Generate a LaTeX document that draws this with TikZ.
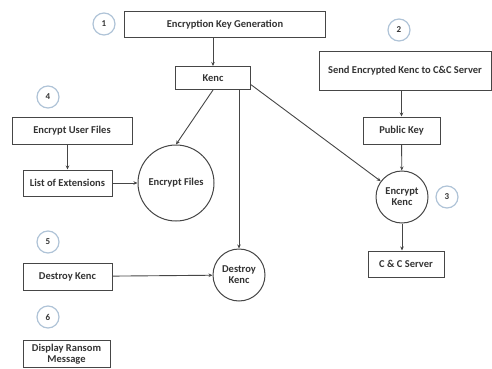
\documentclass[tikz,border=0pt]{standalone}
\usepackage{fontspec}
\setmainfont{Carlito}
\usetikzlibrary{arrows.meta}
\definecolor{numblue}{RGB}{175,195,215}
\definecolor{lineg}{RGB}{70,70,70}

\begin{document}
\begin{tikzpicture}[x=1pt, y=-1pt,
        >={Stealth[length=4pt,width=3.5pt]},
        every node/.style={font=\bfseries\fontsize{10.5}{11}\selectfont, text=black!80},
        box/.style={draw=lineg, line width=1pt, inner sep=1pt, align=center},
        proc/.style={draw=lineg, circle, line width=1pt, inner sep=0pt, align=center},
        stepnum/.style={draw=numblue, circle, line width=1.2pt, minimum size=22pt, inner sep=0pt, font=\bfseries\fontsize{9}{9}\selectfont}]
        \useasboundingbox (0,0) rectangle (492,369);

        % steps
        \node (keygen) [box, minimum width=201pt, minimum height=26pt] at (225,25) {Encryption Key Generation};
        \node (kenc) [box, minimum width=75pt, minimum height=23pt] at (213,78) {Kenc};
        \node (sendkenc) [box, minimum width=172pt, minimum height=39pt] at (405,71) {Send Encrypted Kenc to C\&C Server};
        \node (pubkey) [box, minimum width=77pt, minimum height=27pt] at (401.5,130.5) {Public Key};
        \node (enckenc) [proc, minimum size=52pt] at (402,197) {Encrypt\\Kenc};
        \node (ccserver) [box, minimum width=76pt, minimum height=26pt] at (406,264) {C \& C Server};
        \node (encuser) [box, minimum width=120pt, minimum height=27pt] at (72,130.5) {Encrypt User Files};
        \node (extlist) [box, minimum width=89pt, minimum height=26pt] at (67.5,183) {List of Extensions};
        \node (encfiles) [proc, minimum size=76pt] at (176,183) {Encrypt Files};
        \node (killbox) [box, minimum width=89pt, minimum height=27pt] at (67.5,276.5) {Destroy Kenc};
        \node (killkenc) [proc, minimum size=52pt] at (239,275) {Destroy\\Kenc};
        \node (ransom) [box, minimum width=87pt, minimum height=27pt, inner sep=0pt] at (66.5,354) {Display Ransom\\Message};

        % step numbers
        \foreach \n/\x/\y in {1/104/24, 2/399/30, 3/447/197, 4/48/97, 5/48/242, 6/48/317} {
            \node (num\n) [stepnum] at (\x,\y) {\n};
        }

        % connectors
        \draw[->, lineg, line width=0.9pt] (keygen.south -| kenc.north) -- (kenc.north);
        \draw[->, lineg, line width=0.9pt] (sendkenc.south -| pubkey.north) -- (pubkey.north);
        \draw[->, lineg, line width=0.9pt] (pubkey) -- (enckenc);
        \draw[->, lineg, line width=0.9pt] (enckenc.south) -- (ccserver.north -| enckenc.south);
        \draw[->, lineg, line width=0.9pt] (encuser.south -| extlist.north) -- (extlist.north);
        \draw[->, lineg, line width=0.9pt] (extlist) -- (encfiles);
        \draw[->, lineg, line width=0.9pt] (kenc.south) -- (encfiles.north);
        \draw[->, lineg, line width=0.9pt] (kenc.south -| killkenc.north) -- (killkenc.north);
        \draw[->, lineg, line width=0.9pt] (kenc.-10) -- (enckenc);
        \draw[->, lineg, line width=0.9pt] (killbox) -- (killkenc);
    \end{tikzpicture}
\end{document}
